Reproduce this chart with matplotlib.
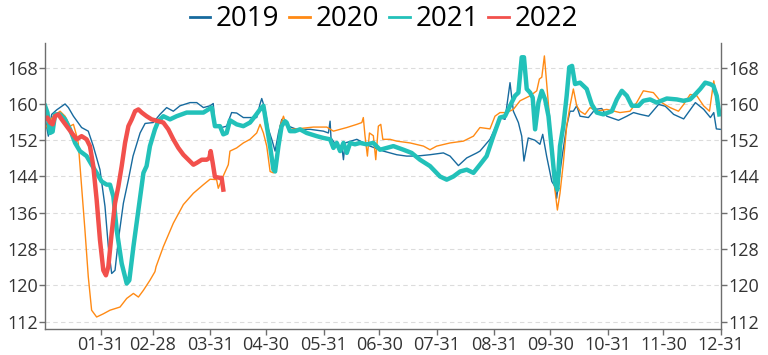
import matplotlib
matplotlib.use("Agg")
import matplotlib.pyplot as plt
import pandas as pd

plt.rcParams['font.family'] = ['Open Sans', 'DejaVu Sans']

# day of year (0 = Jan 1) and value
days_2019 = [0, 1.8, 3.6, 6.3, 10.8, 12.6, 15.3, 19.7, 23.3, 26, 29.6, 32.3, 34.1, 35.9, 37.7, 39.5,
             42.2, 44.9, 47.4, 51.2, 53.9, 58.3, 61.9, 65.5, 69.1, 72.7, 78.1, 81.7, 85.3, 88.9, 90.6,
             91.5, 95.1, 97.8, 100.5, 103.2, 106.8, 114, 115.8, 116.7, 118.5, 120.3, 122.1, 123.9,
             125.7, 127.5, 131.1, 135.5, 142.8, 149.9, 152.6, 153.5, 154, 157.1, 159.8, 160.7, 161.6,
             167.9, 175, 182.2, 189.4, 194.7, 200.1, 207.3, 214.5, 218.1, 222.6, 227.1, 232.5, 234.2,
             239.6, 245, 247.7, 250.4, 252.2, 254.9, 256.7, 257.9, 260.2, 263.8, 266.5, 268, 270.1,
             272.9, 274.6, 275.5, 278.2, 280.9, 282.7, 284.5, 286.3, 288.1, 292.6, 296.2, 299.8, 302.5,
             308.8, 313.3, 316.9, 320.5, 325, 330.4, 334, 338.5, 343.9, 350.2, 354.7, 358.3, 360.1,
             361.5, 363.6]
vals_2019 = [157, 152.9, 157.7, 158.7, 160, 159.2, 157.3, 154.8, 154, 150.7, 145.5, 137.4, 128.5, 122.6,
             123.3, 130, 138.1, 143.3, 148.5, 153.6, 155.7, 155.9, 157.7, 159.2, 158.4, 159.6, 160.3,
             160.3, 159.2, 159.6, 160.1, 155.1, 154.8, 155.1, 158.1, 158, 157, 157, 160, 161.2, 158.8,
             154.4, 152.2, 149.6, 153.6, 156.6, 155.1, 154.4, 154.4, 154, 153.6, 156.2, 152.5, 150.7,
             150.7, 147.7, 151.4, 152.2, 150.7, 149.6, 148.8, 148.5, 148.5, 148.8, 149.2, 148.5, 146.4,
             148.1, 149.2, 149.6, 152.2, 157, 156.6, 164.7, 158.4, 155.9, 152.9, 147.4, 152.5, 152,
             151.1, 153.3, 148.5, 142.9, 141.8, 139.2, 147.7, 155.1, 158.4, 158.4, 159.6, 157.3, 157,
             158.8, 159, 157.3, 156.4, 157.3, 158.1, 157.7, 157.3, 159.9, 159.5, 157.7, 156.7, 160.3,
             158.8, 157, 158.1, 154.5, 154.4]

days_2020 = [0, 1.8, 4.5, 8.1, 10.8, 13.5, 15.3, 17.1, 17.9, 19.7, 21.5, 23.3, 25.1, 27.8, 31.4, 35,
             40.4, 44, 47.6, 50.3, 53, 56.5, 59.2, 59.8, 63.7, 69.1, 74.5, 79.9, 85.3, 88.9, 92.4, 93.3,
             95.1, 98.7, 99.6, 103.2, 106.8, 110.4, 114, 115.8, 117.6, 119.4, 121.2, 123, 124.8, 126.6,
             128.4, 130.1, 131.9, 135.5, 144.5, 151.7, 155.3, 162.5, 167.9, 170.6, 171.4, 172.3, 173.6,
             174.7, 176.8, 178.1, 179.5, 180.8, 181.9, 185.8, 189.4, 196.6, 203.8, 207.3, 210.9, 218.1,
             225.3, 230.7, 234.2, 239.6, 242.3, 245, 248.6, 252.2, 255.8, 261.2, 264.8, 266.2, 267.5,
             268.9, 270.1, 271.9, 273.7, 275.9, 277.3, 279.1, 280.9, 282.7, 284.5, 286.3, 288.1, 290.8,
             293.5, 297.1, 302.5, 309.6, 315, 318.6, 322.2, 327.6, 332.1, 336.6, 341.1, 343.9, 347.4,
             351, 354.6, 357.8, 360.1, 361.9, 363.3]
vals_2020 = [154.4, 155.9, 157.3, 158.4, 157.3, 155.1, 155.5, 152.9, 151.4, 141.8, 132.2, 121.9, 114.5,
             113, 113.7, 114.5, 115.2, 117.1, 118.2, 117.4, 118.9, 121.1, 123, 124.1, 128.5, 133.7,
             137.8, 140.3, 142.2, 143.4, 143.3, 141.4, 143.3, 146.6, 149.6, 150.3, 151.4, 152.2, 153.6,
             155.5, 153.6, 150.7, 145.1, 144.8, 148.5, 155.1, 157.3, 155.1, 154.4, 154.5, 154.9, 154.9,
             154, 154.8, 155.5, 155.9, 157, 153, 148.5, 153.6, 153, 147.7, 155.1, 155.5, 152.2, 152.2,
             151.8, 151.4, 150.7, 149.9, 150.7, 151.4, 151.8, 152.9, 154.8, 154.5, 157.3, 158.1, 158.1,
             158.8, 160.7, 161.8, 162.9, 165.5, 165.9, 170.6, 164.7, 155.9, 144, 136.6, 140.3, 147,
             155.1, 159.6, 163.3, 159.6, 158.4, 157.7, 159.2, 158.4, 158.8, 158.1, 158.4, 160.3, 162.9,
             162.5, 160.3, 159.2, 158.4, 159.9, 162.1, 161.8, 159.6, 158.4, 165.1, 161, 158.1]

days_2021 = [0, 1.3, 2.7, 4.1, 5.4, 8.1, 10.8, 13.5, 16.2, 18.8, 22.4, 25.1, 27.8, 30.5, 33.2, 35,
             36.8, 38.6, 41.3, 44, 45.4, 47.6, 50.3, 53, 54.7, 56.5, 59.2, 61, 63.7, 67.3, 70.9, 76.3,
             81.7, 85.3, 88, 89.8, 91.5, 94.2, 96, 97.8, 99.6, 103.2, 106.8, 110.4, 113.1, 115.8, 117.6,
             119.4, 121.2, 123, 123.9, 125.7, 127.4, 129.2, 130.1, 131.9, 134.6, 137.3, 140.9, 146.3,
             149.9, 153.5, 155.3, 157.1, 158.9, 160.7, 162.5, 164.3, 166.9, 169.6, 173.2, 176.8, 180.4,
             184, 187.6, 193, 197.4, 201.9, 207.3, 212.7, 216.3, 219.9, 223.5, 227.1, 230.7, 234.2,
             237.8, 241.4, 245, 247.7, 250.4, 253.1, 254.9, 256.7, 257.9, 259.4, 261.2, 262.6, 263.9,
             265.7, 267.5, 269.3, 271.1, 272.9, 274.6, 275.9, 277.3, 279.1, 280.9, 282.3, 283.8, 285.4,
             288.1, 289.9, 291.7, 294.4, 297.1, 300.7, 305.2, 307.9, 310.6, 313.3, 316, 319.6, 322.2,
             325.8, 329.4, 334.8, 340.2, 343.8, 347.4, 350.1, 352.8, 355.5, 358.1, 359.9, 361.7, 363.1]
vals_2021 = [159.6, 158.1, 153.6, 153.9, 157.7, 157.7, 156.6, 154.4, 151.4, 149.6, 148.5, 146.6, 144.8,
             142.9, 142.2, 142.2, 139.6, 132.2, 124.8, 120.4, 121.1, 128.5, 136.6, 144.8, 146.3, 150.7,
             154.4, 156.2, 157.3, 156.6, 157.3, 158.1, 158.1, 158.1, 158.8, 159.2, 155.1, 155.1, 153.3,
             153.6, 156.4, 155.5, 155.1, 155.9, 157.3, 158.8, 159.6, 155.1, 150.7, 145.5, 145.1, 150.7,
             155.1, 156.2, 155.9, 154, 154, 154.4, 153.6, 152.9, 152.5, 152.2, 150.3, 151.4, 149.6,
             151.4, 149.2, 151.4, 151.1, 151.4, 151.1, 151.4, 149.9, 150.3, 150.7, 149.9, 149.2, 147.7,
             146.3, 144, 143.3, 144, 145.1, 145.5, 144.8, 146.6, 148.5, 152.9, 157, 157.3, 159.6, 161.8,
             162.5, 170.3, 170.3, 163.3, 162.5, 161.4, 154.4, 160.3, 162.9, 161, 157.3, 149.9, 142.6,
             141.1, 150.7, 155.1, 161.8, 168.1, 168.4, 164.4, 164.7, 164, 163.3, 159.9, 158.1, 157.7,
             158.4, 161, 162.9, 161.8, 159.6, 159.6, 160.7, 161, 160.3, 161.2, 161, 160.7, 161, 162.1,
             163.3, 164.7, 164.4, 164, 161.8, 157.7]

days_2022 = [0, 1.3, 2.7, 4.1, 5.4, 7.2, 9, 11.7, 14.4, 17.1, 19.7, 22.4, 24.2, 26, 27.8, 29.6, 31.4,
             32.8, 34.1, 35.9, 37.7, 39.5, 41.3, 43.1, 44.9, 46.7, 48.5, 50.3, 52.1, 54.7, 57.4, 61,
             63.7, 66.4, 69.1, 71.8, 74.5, 77.2, 79.9, 81.7, 84.4, 87.1, 88.5, 89.2, 90.3, 91.5, 94.2,
             95.1, 96]
vals_2022 = [156.6, 157, 155.9, 155.5, 157.3, 157.7, 156.6, 155.1, 153.6, 152.2, 152.9, 152.2, 150.7,
             146.3, 138.9, 130, 123.3, 122.2, 124.1, 131.5, 138.1, 141.8, 146.3, 151.4, 155.1, 156.6,
             158.4, 158.8, 158.1, 157.3, 156.6, 156.2, 155.9, 154.4, 152.2, 150.3, 148.8, 147.7, 146.6,
             147, 147.7, 147.7, 148.1, 149.6, 147, 143.9, 143.7, 143.7, 141.1]

years = ['2019', '2020', '2021', '2022']
y_ticks = [112, 120, 128, 136, 144, 152, 160, 168]

# month-end tick positions
month_ends = pd.date_range('2021-01-31', periods=12, freq='ME')
tick_pos = [d.dayofyear - 1 for d in month_ends]
tick_labels = [d.strftime('%m-%d') for d in month_ends]

fig = plt.figure(figsize=(7.68, 3.55), dpi=100)
ax = fig.add_axes([0.0586, 0.0732, 0.8802, 0.8057])

ax.plot(days_2019, vals_2019, color='#176a9e', lw=1.0, label=years[0])
ax.plot(days_2020, vals_2020, color='#ff8a14', lw=1.0, label=years[1])
ax.plot(days_2021, vals_2021, color='#22c1b9', lw=3.2, label=years[2], solid_joinstyle='round')
ax.plot(days_2022, vals_2022, color='#f2504c', lw=3.2, label=years[3], solid_joinstyle='round')

ax.set_xlim(0, 364)
ax.set_ylim(110.35, 173.45)
ax.set_yticks(y_ticks)
ax.set_xticks(tick_pos)
ax.set_xticklabels(tick_labels)

ax.grid(axis='y', color='#dcdcdc', linestyle=(0, (4, 3)), lw=0.8)
ax.set_axisbelow(True)

ax.spines['top'].set_visible(False)
for s in ['left', 'right', 'bottom']:
    ax.spines[s].set_color('#6e6e6e')
    ax.spines[s].set_linewidth(1.0)

ax.tick_params(axis='both', colors='#6e6e6e', labelcolor='#333333', labelsize=13,
               length=4, width=1, pad=1)
ax.tick_params(axis='y', right=True, labelright=True)

leg = fig.legend(loc='upper center', bbox_to_anchor=(0.5, 1.055), ncol=4, frameon=False,
                 fontsize=20, handlelength=0.75, handletextpad=0.2, columnspacing=0.35)
for line in leg.get_lines():
    line.set_linewidth(2)

fig.savefig('out.png', dpi=100)
